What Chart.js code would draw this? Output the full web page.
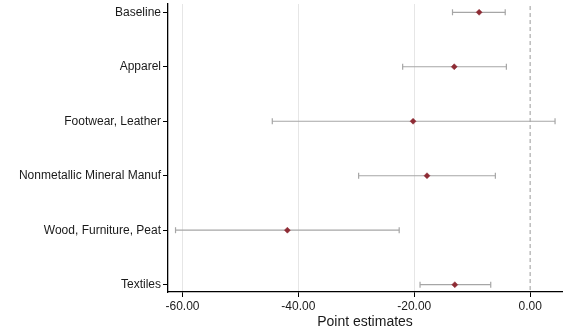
<!DOCTYPE html>
<html>
<head>
<meta charset="utf-8">
<script src="https://cdn.jsdelivr.net/npm/chart.js@4/dist/chart.umd.min.js"></script>
<style>
  html, body { margin: 0; padding: 0; background: #fff; }
  #wrap { width: 563px; height: 336px; }
</style>
</head>
<body>
<div id="wrap"><canvas id="c" width="563" height="336"></canvas></div>
<script>
// Sectors, top to bottom
const categories = ["Baseline", "Apparel", "Footwear, Leather", "Nonmetallic Mineral Manuf", "Wood, Furniture, Peat", "Textiles"];
// Point estimates and confidence bounds per sector
const estimates = [-8.8, -13.1, -20.2, -17.8, -41.9, -13.0];
const lower = [-13.4, -22.0, -44.5, -29.6, -61.2, -19.0];
const upper = [-4.3, -4.1, 4.3, -6.0, -22.6, -6.8];
const xTicks = [-60, -40, -20, 0];

const FONT = "'Liberation Sans', Arial, Helvetica, sans-serif";
const TEXT = "#1a1a1a";
const MARK = "#8e2b34";
const BAR = "#a6a6a6";

const datasets = [];

// Reference line at zero
datasets.push({
  type: "line",
  data: [{ x: 0, y: 0.5 }, { x: 0, y: 6.5 }],
  borderColor: "#9a9a9a",
  borderWidth: 1,
  borderDash: [4, 3],
  pointRadius: 0,
  order: 3
});

// Confidence intervals with end caps
categories.forEach((c, i) => {
  datasets.push({
    type: "line",
    data: [{ x: lower[i], y: i + 1 }, { x: upper[i], y: i + 1 }],
    borderColor: BAR,
    borderWidth: 1.2,
    pointStyle: "line",
    rotation: 90,
    pointRadius: 3,
    pointBorderColor: BAR,
    pointBorderWidth: 1.2,
    order: 2
  });
});

// Point estimates
datasets.push({
  type: "scatter",
  data: estimates.map((v, i) => ({ x: v, y: i + 1 })),
  pointStyle: "rectRot",
  pointRadius: 3,
  backgroundColor: MARK,
  borderColor: MARK,
  borderWidth: 0.5,
  order: 1
});

new Chart(document.getElementById("c"), {
  type: "scatter",
  data: { datasets },
  options: {
    responsive: false,
    animation: false,
    events: [],
    layout: { autoPadding: false, padding: { top: 4, right: 1, left: 0, bottom: 0 } },
    plugins: { legend: { display: false }, tooltip: { enabled: false } },
    scales: {
      x: {
        type: "linear",
        min: -62.5,
        max: 5.5,
        afterBuildTicks: (s) => { s.ticks = xTicks.map(v => ({ value: v })); },
        afterFit: (s) => { s.height = 44; s.paddingLeft = 0; s.paddingRight = 0; },
        border: { display: true, color: "#000", width: 1.3 },
        grid: {
          drawOnChartArea: true,
          drawTicks: true,
          tickLength: 5,
          tickColor: "#000",
          color: (ctx) => (ctx.tick && ctx.tick.value === 0) ? "rgba(0,0,0,0)" : "#e6e6e6",
          lineWidth: 1
        },
        ticks: {
          color: TEXT,
          font: { family: FONT, size: 12 },
          padding: 2,
          maxRotation: 0,
          callback: (v) => Number(v).toFixed(2)
        },
        title: {
          display: true,
          text: "Point estimates",
          color: TEXT,
          font: { family: FONT, size: 14 },
          padding: { top: 0, bottom: 5 }
        }
      },
      y: {
        type: "linear",
        reverse: true,
        min: 0.848,
        max: 6.134,
        afterBuildTicks: (s) => { s.ticks = categories.map((c, i) => ({ value: i + 1 })); },
        afterFit: (s) => { s.width = 168; s.paddingTop = 0; s.paddingBottom = 0; },
        border: { display: true, color: "#000", width: 1.3 },
        grid: {
          drawOnChartArea: false,
          drawTicks: true,
          tickLength: 5,
          tickColor: "#000"
        },
        ticks: {
          color: TEXT,
          font: { family: FONT, size: 12 },
          padding: 2,
          callback: (v) => categories[Math.round(v) - 1] || ""
        }
      }
    }
  }
});
</script>
</body>
</html>
